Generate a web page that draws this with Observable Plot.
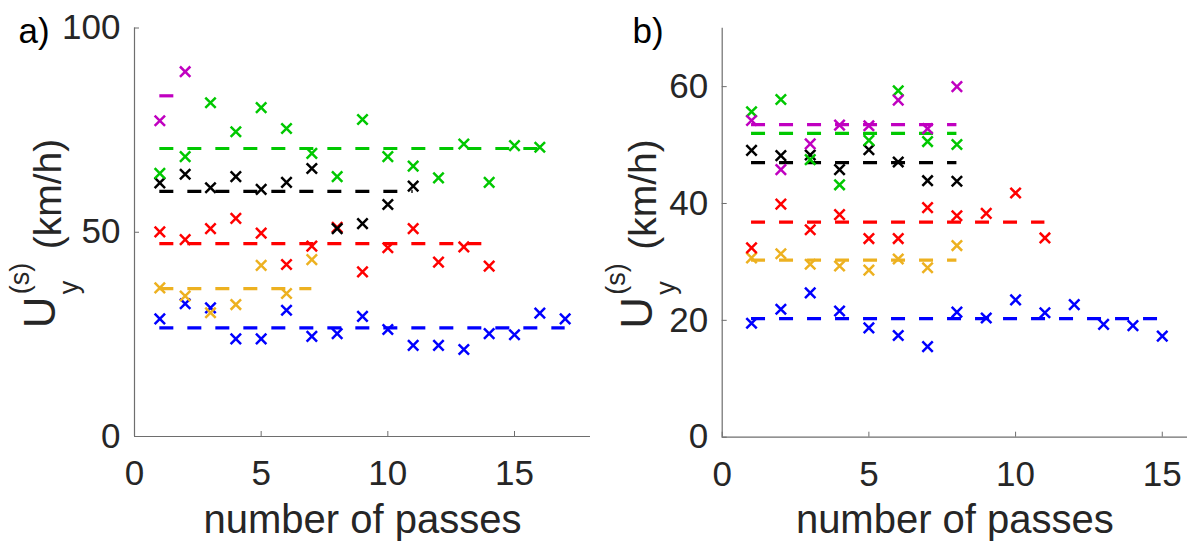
<!DOCTYPE html>
<html><head><meta charset="utf-8">
<script src="https://cdn.jsdelivr.net/npm/d3@7"></script>
<script src="https://cdn.jsdelivr.net/npm/@observablehq/plot@0.6"></script>
<style>
html,body{margin:0;padding:0;background:#fff;overflow:hidden}
#wrap{position:relative;width:1187px;height:542px}
#wrap svg{position:absolute;top:0}
</style></head><body><div id="wrap"></div>
<script>
// series order = drawing order
const seriesNames = ["s1", "s2", "s3", "s4", "s5", "s6"];
const seriesColors = ["#0000ff", "#edb120", "#ff0000", "#000000", "#00c800", "#c000c0"];

// Panel a) values by number of passes (1, 2, 3, ...)
const blueA = [28.8, 32.5, 31.5, 23.9, 23.9, 30.9, 24.5, 25.2, 29.4, 26.2, 22.3, 22.3, 21.3, 25.2, 24.9, 30.2, 28.8];
const orangeA = [36.4, 34.4, 30.3, 32.3, 41.9, 35.0, 43.3];
const redA = [50.1, 48.2, 50.9, 53.4, 49.8, 42.1, 46.6, 51.2, 40.3, 46.2, 50.9, 42.7, 46.4, 41.7];
const blackA = [62.1, 64.2, 60.9, 63.6, 60.5, 62.2, 65.6, 50.9, 52.1, 56.8, 61.3];
const greenA = [64.4, 68.5, 81.7, 74.6, 80.5, 75.4, 69.3, 63.6, 77.6, 68.5, 66.2, 63.3, 71.6, 62.2, 71.2, 70.8];
const magentaA = [77.3, 89.3];
const meanA = [26.6, 36.2, 47.2, 60.0, 70.5, 83.4];

// Panel b)
const blueB = [19.5, 21.9, 24.7, 21.6, 18.7, 17.4, 15.5, 21.4, 20.4, 23.5, 21.3, 22.7, 19.3, 19.1, 17.3];
const orangeB = [30.7, 31.4, 29.6, 29.3, 28.6, 30.5, 29.0, 32.8];
const redB = [32.4, 39.9, 35.5, 38.1, 34.0, 34.0, 39.3, 37.9, 38.3, 41.8, 34.1];
const blackB = [49.1, 48.2, 48.3, 45.8, 49.2, 47.1, 43.9, 43.8];
const greenB = [55.7, 57.8, 47.5, 43.2, 50.8, 59.3, 50.6, 50.1];
const magentaB = [54.2, 45.8, 50.2, 53.4, 53.3, 57.7, 52.8, 60.0];
const meanB = [20.3, 30.3, 36.8, 47.0, 52.0, 53.5];

const xTicks = [0, 5, 10, 15];
const yTicksA = [0, 50, 100];
const yTicksB = [0, 20, 40, 60];
const xLabel = "number of passes";

const FONT = "'Liberation Sans', Arial, Helvetica, sans-serif";
const INK = "#262626";
const AXIS = "#6e6e6e";

function buildPanel(cfg) {
  const {lists, means, xDomain, yDomain, yTicks, letter, width, left, mL, mR, mT, mB, yl} = cfg;
  const H = 542;
  const plotW = width - mL - mR, plotH = H - mT - mB;
  const marks = [
    Plot.ruleX([0], {stroke: AXIS, strokeWidth: 1.2}),
    Plot.ruleY([0], {stroke: AXIS, strokeWidth: 1.2}),
    Plot.tickX(xTicks, {x: d => d, stroke: AXIS, insetTop: plotH - 5}),
    Plot.tickY(yTicks, {y: d => d, stroke: AXIS, insetRight: plotW - 5}),
    Plot.axisX({ticks: xTicks, tickSize: 0, tickPadding: 24, fontSize: 35, label: null, fill: INK}),
    Plot.axisY({ticks: yTicks, tickSize: 0, tickPadding: 14, fontSize: 35, label: null, fill: INK})
  ];
  seriesNames.forEach((name, i) => {
    const pts = lists[i].map((v, j) => ({series: name, n: j + 1, v}));
    marks.push(Plot.dot(pts, {x: "n", y: "v", symbol: "times", r: 4.8, stroke: seriesColors[i], strokeWidth: 2.5}));
    marks.push(Plot.ruleY([{series: name, v: means[i], x1: 1, x2: lists[i].length}],
      {y: "v", x1: "x1", x2: "x2", stroke: seriesColors[i], strokeWidth: 3.2, strokeDasharray: "14,14"}));
  });
  // panel letter
  marks.push(Plot.text([letter], {frameAnchor: "top-left", textAnchor: "start", lineAnchor: "bottom",
    dx: cfg.letterX - mL, dy: 42 - mT, fontSize: 35, fill: "#000"}));
  // x label
  marks.push(Plot.text([xLabel], {frameAnchor: "bottom", lineAnchor: "bottom", dy: 96, fontSize: 40, fill: INK}));
  // y label pieces: U, superscript (s), subscript y, (km/h)
  yl.forEach(p => marks.push(Plot.text([p.t], {frameAnchor: "left", rotate: -90, textAnchor: "start",
    lineAnchor: "bottom", dx: p.dx, dy: p.dy, fontSize: p.fs, fill: INK})));
  const svg = Plot.plot({
    width, height: H, marginLeft: mL, marginRight: mR, marginTop: mT, marginBottom: mB,
    x: {domain: xDomain}, y: {domain: yDomain},
    style: {fontFamily: FONT, color: INK, background: "transparent", overflow: "visible"},
    marks
  });
  svg.style.left = left + "px";
  document.getElementById("wrap").appendChild(svg);
}

const ylA = [
  {t: "U", dx: -80, dy: 96, fs: 44},
  {t: "(s)", dx: -106, dy: 62, fs: 27},
  {t: "y", dx: -57, dy: 62, fs: 27},
  {t: "(km/h)", dx: -74, dy: 17, fs: 39}
];
const ylB = [
  {t: "U", dx: -70, dy: 96, fs: 44},
  {t: "(s)", dx: -97, dy: 62, fs: 27},
  {t: "y", dx: -47, dy: 62, fs: 27},
  {t: "(km/h)", dx: -66, dy: 17, fs: 39}
];

buildPanel({lists: [blueA, orangeA, redA, blackA, greenA, magentaA], means: meanA,
  xDomain: [0, 18], yDomain: [0, 100], yTicks: yTicksA, letter: "a)", letterX: 18, yl: ylA,
  width: 600, left: 0, mL: 134, mR: 10, mT: 27.5, mB: 106});
buildPanel({lists: [blueB, orangeB, redB, blackB, greenB, magentaB], means: meanB,
  xDomain: [0, 15.86], yDomain: [0, 70], yTicks: yTicksB, letter: "b)", letterX: 32, yl: ylB,
  width: 587, left: 600, mL: 121.7, mR: 0, mT: 27.7, mB: 105.3});
</script>
</body></html>
